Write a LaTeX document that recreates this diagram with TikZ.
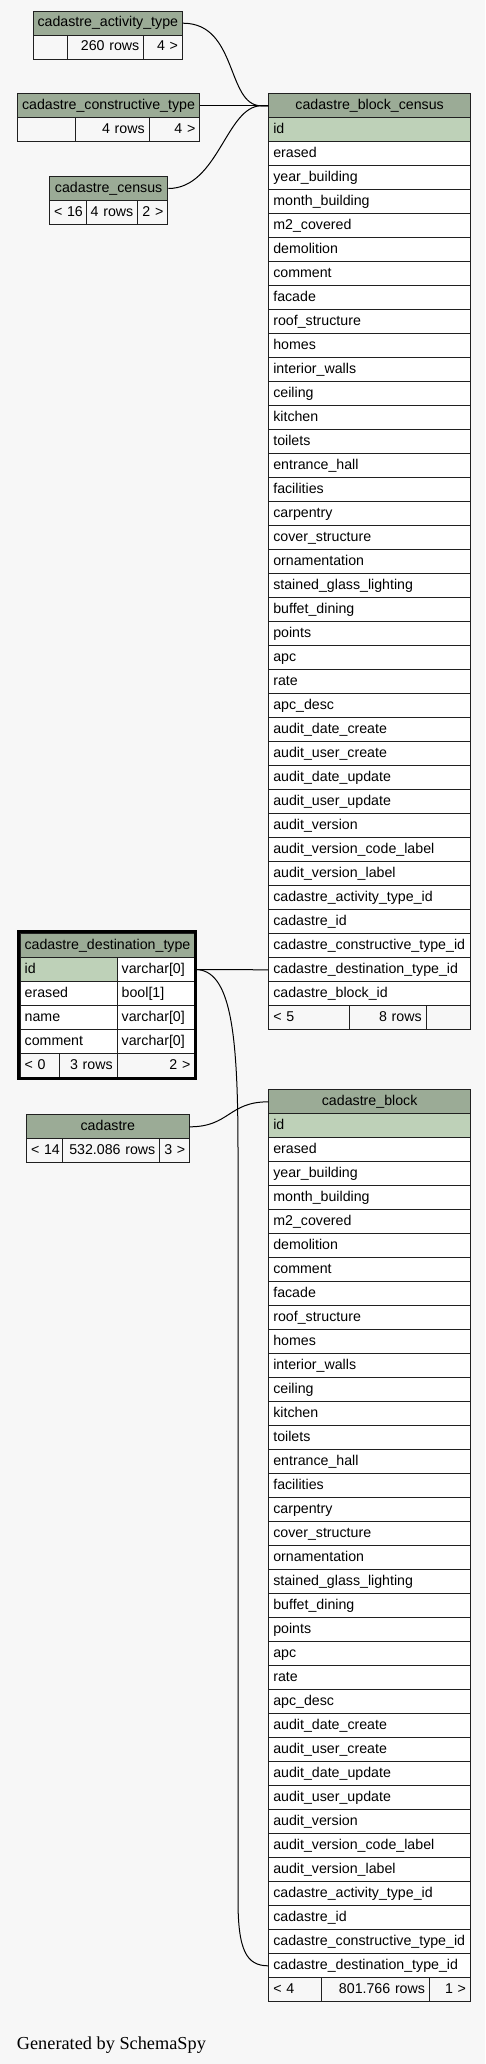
\documentclass[tikz,border=0pt]{standalone}
\usepackage{fontspec}
\setmainfont{Liberation Sans}
\newfontfamily\genfont{Liberation Serif}
\definecolor{bgc}{HTML}{F7F7F7}
\definecolor{hdrc}{HTML}{9BAB96}
\definecolor{pkc}{HTML}{BED1B8}
\definecolor{linec}{HTML}{202020}
\tikzset{
  cellbase/.style={draw=linec, line width=1pt, anchor=north west, minimum height=24pt, inner xsep=4.5pt, inner ysep=0pt, text height=10.5pt, text depth=3pt, font=\fontsize{14.2}{17}\selectfont},
  hdrcell/.style={cellbase, fill=hdrc, inner xsep=1pt},
  fldcell/.style={cellbase, fill=white, align=left},
  pkcell/.style={cellbase, fill=pkc, align=left},
  ftrcell/.style={cellbase, fill=bgc},
  conn/.style={draw=black, line width=1pt},
}
\newcommand\tblhead[5]{%
  \pgfmathsetmacro\tblw{#3-#2}%
  \node[hdrcell, minimum width=\tblw pt] (#1-h) at (#2,#4) {#5};}
\newcommand\tblpk[5]{%
  \pgfmathsetmacro\tblw{#3-#2-9}%
  \node[pkcell, text width=\tblw pt] (#1-pk) at (#2,#4) {#5};}
\newcommand\tblfields[5]{%
  \pgfmathsetmacro\tblw{#3-#2-9}%
  \foreach \f [count=\i] in {#5}{%
    \pgfmathsetmacro\yy{#4+24*(\i-1)}%
    \node[fldcell, text width=\tblw pt] (#1-\i) at (#2,\yy) {\f};}}
\newcommand\tblfoot[9]{%
  \pgfmathsetmacro\twa{#3-#2-9}\pgfmathsetmacro\twb{#4-#3-9}\pgfmathsetmacro\twc{#5-#4-9}%
  \node[ftrcell, text width=\twa pt, align=left] (#1-fa) at (#2,#6) {\mbox{#7}};
  \node[ftrcell, text width=\twb pt, align=right] (#1-fb) at (#3,#6) {\mbox{#8}};
  \node[ftrcell, text width=\twc pt, align=right] (#1-fc) at (#4,#6) {\mbox{#9}};}
\begin{document}
\begin{tikzpicture}[x=1pt,y=-1pt]
\fill[bgc] (0,0) rectangle (485,2064);
\useasboundingbox (0,0) rectangle (485,2064);

% cadastre_activity_type
\tblhead{act}{32.7}{182}{10.7}{cadastre\_activity\_type}
\tblfoot{act}{32.7}{67}{143.3}{182}{34.7}{}{260 rows}{4 >}

% cadastre_constructive_type
\tblhead{con}{16.7}{199.3}{93.3}{cadastre\_constructive\_type}
\tblfoot{con}{16.7}{75.3}{148.7}{199.3}{117.3}{}{4 rows}{4 >}

% cadastre_census
\tblhead{cen}{49}{167.3}{176}{cadastre\_census}
\tblfoot{cen}{49}{85.7}{137.3}{167.3}{200}{< 16}{4 rows}{2 >}

% cadastre_block_census
\tblhead{bc}{268.3}{470}{93.3}{cadastre\_block\_census}
\tblpk{bc}{268.3}{470}{117.3}{id}
\tblfields{bc}{268.3}{470}{141.3}{erased,year\_building,month\_building,m2\_covered,demolition,comment,facade,roof\_structure,homes,interior\_walls,ceiling,kitchen,toilets,entrance\_hall,facilities,carpentry,cover\_structure,ornamentation,stained\_glass\_lighting,buffet\_dining,points,apc,rate,apc\_desc,audit\_date\_create,audit\_user\_create,audit\_date\_update,audit\_user\_update,audit\_version,audit\_version\_code\_label,audit\_version\_label,cadastre\_activity\_type\_id,cadastre\_id,cadastre\_constructive\_type\_id,cadastre\_destination\_type\_id,cadastre\_block\_id}
\tblfoot{bc}{268.3}{348.7}{425.7}{470}{1005.3}{< 5}{8 rows}{}

% cadastre_destination_type
\node[hdrcell, minimum width=174.6pt] (dt-h) at (19.7,933) {cadastre\_destination\_type};
\node[pkcell, text width=88pt] (dt-l1) at (19.7,957) {id};
\node[fldcell, text width=68.6pt] (dt-r1) at (116.7,957) {varchar[0]};
\node[fldcell, text width=88pt] (dt-l2) at (19.7,981) {erased};
\node[fldcell, text width=68.6pt] (dt-r2) at (116.7,981) {bool[1]};
\node[fldcell, text width=88pt] (dt-l3) at (19.7,1005) {name};
\node[fldcell, text width=68.6pt] (dt-r3) at (116.7,1005) {varchar[0]};
\node[fldcell, text width=88pt] (dt-l4) at (19.7,1029) {comment};
\node[fldcell, text width=68.6pt] (dt-r4) at (116.7,1029) {varchar[0]};
\tblfoot{dt}{19.7}{59}{116.7}{194.3}{1053}{< 0}{3 rows}{2 >}
\draw[line width=3pt, draw=black] (18.2,931.5) rectangle (195.8,1078.5);

% cadastre
\tblhead{cad}{26}{188.7}{1114.3}{cadastre}
\tblfoot{cad}{26}{62.3}{159.3}{188.7}{1138.3}{< 14}{532.086 rows}{3 >}

% cadastre_block
\tblhead{cb}{268.3}{470}{1089.3}{cadastre\_block}
\tblpk{cb}{268.3}{470}{1113.3}{id}
\tblfields{cb}{268.3}{470}{1137.3}{erased,year\_building,month\_building,m2\_covered,demolition,comment,facade,roof\_structure,homes,interior\_walls,ceiling,kitchen,toilets,entrance\_hall,facilities,carpentry,cover\_structure,ornamentation,stained\_glass\_lighting,buffet\_dining,points,apc,rate,apc\_desc,audit\_date\_create,audit\_user\_create,audit\_date\_update,audit\_user\_update,audit\_version,audit\_version\_code\_label,audit\_version\_label,cadastre\_activity\_type\_id,cadastre\_id,cadastre\_constructive\_type\_id,cadastre\_destination\_type\_id}
\tblfoot{cb}{268.3}{320.7}{429}{470}{1977.3}{< 4}{801.766 rows}{1 >}

% connectors
\draw[conn] (act-h.east) .. controls +(55,0) and +(-35,0) .. ([xshift=-7pt]bc-h.west) -- (bc-h.west);
\draw[conn] (con-h.east) -- (bc-h.west);
\draw[conn] (cen-h.east) .. controls +(50,0) and +(-35,0) .. ([xshift=-7pt]bc-h.west) -- (bc-h.west);
\draw[conn] (dt-r1.east) -- (bc-35.west);
\coordinate (dtA) at (238,1150);
\coordinate (dtB) at (238,1900);
\draw[conn] (dt-r1.east) .. controls +(35,0) and +(0,-120) .. (dtA) -- (dtB) .. controls +(0,50) and +(-22,0) .. (cb-35.west);
\draw[conn] (cad-h.east) .. controls +(40,0) and +(-40,0) .. (cb-h.west);

\node[anchor=base west, inner sep=0pt, font=\genfont\fontsize{18.3}{22}\selectfont] (gen) at (16.7,2049.3) {Generated by SchemaSpy};
\end{tikzpicture}
\end{document}
